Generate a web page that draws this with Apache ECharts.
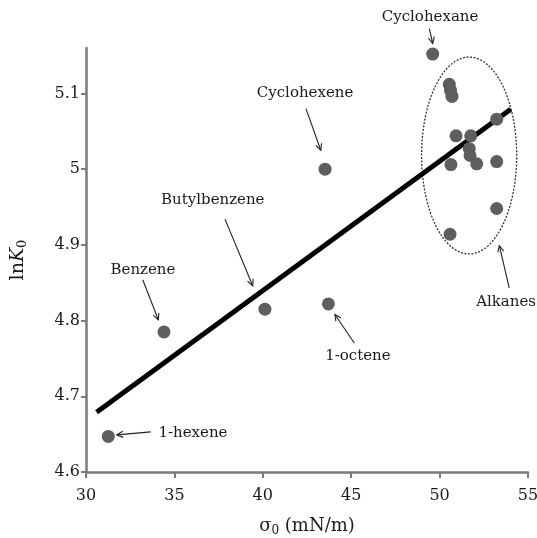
<!DOCTYPE html>
<html><head><meta charset="utf-8">
<script src="https://cdn.jsdelivr.net/npm/echarts@6/dist/echarts.min.js"></script>
<style>html,body{margin:0;padding:0;background:#fff}#c{width:537px;height:538px}</style>
</head><body><div id="c"></div>
<script>
// Named points (sigma0 mN/m, lnK0)
const namedPoints = [
  [31.26, 4.647], // 1-hexene
  [34.41, 4.785], // Benzene
  [40.12, 4.815], // Butylbenzene
  [43.71, 4.822], // 1-octene
  [43.52, 5.000], // Cyclohexene
  [49.61, 5.152]  // Cyclohexane
];
const alkanePoints = [
  [50.55, 5.112], [50.62, 5.104], [50.70, 5.096], [53.23, 5.066],
  [50.93, 5.044], [51.76, 5.044], [51.68, 5.027], [51.72, 5.018],
  [52.10, 5.007], [50.64, 5.006], [53.23, 5.010], [53.23, 4.948],
  [50.59, 4.914]
];
const fitLine = [[30.6, 4.679], [54.02, 5.079]];
// ellipse: center x, center y, radius x, radius y
const alkaneEllipse = [[51.67, 5.018, 2.69, 0.130]];
// labels: text, x, y
const labelTexts = ['Cyclohexane', 'Cyclohexene', 'Butylbenzene', 'Benzene', '1-octene', '1-hexene', 'Alkanes'];
const labelPos = [[49.46, 5.2005], [42.39, 5.101], [37.17, 4.959], [33.22, 4.867], [45.38, 4.753], [36.05, 4.651], [53.76, 4.824]];
// arrows: x1, y1, x2 (tip), y2 (tip)
const arrows = [
  [49.42, 5.1856, 49.61, 5.166],
  [42.44, 5.080, 43.28, 5.025],
  [37.86, 4.934, 39.43, 4.846],
  [33.21, 4.854, 34.09, 4.801],
  [45.18, 4.770, 44.08, 4.808],
  [33.66, 4.653, 31.74, 4.649],
  [53.94, 4.843, 53.38, 4.899]
];
const xTicks = [30, 35, 40, 45, 50, 55];
const yTicks = [4.6, 4.7, 4.8, 4.9, 5.0, 5.1];

const FONT = '"DejaVu Serif", "Liberation Serif", serif';
const chart = echarts.init(document.getElementById('c'), null, {renderer: 'canvas'});
const axisColor = '#7a7a7a';
chart.setOption({
  animation: false,
  backgroundColor: '#fff',
  grid: {left: 86, right: 9, top: 48, bottom: 66, containLabel: false, outerBoundsMode: 'none'},
  xAxis: {
    type: 'value', min: 30, max: 55, interval: 5,
    axisLine: {onZero: false, lineStyle: {color: axisColor, width: 2.5}},
    axisTick: {length: 6, lineStyle: {color: axisColor, width: 2}, customValues: xTicks},
    axisLabel: {color: '#1a1a1a', fontFamily: FONT, fontSize: 16, margin: 16, customValues: xTicks},
    splitLine: {show: false},
    name: 'σ{sub|0} (mN/m)', nameLocation: 'middle', nameGap: 44,
    nameTextStyle: {color: '#1a1a1a', fontFamily: FONT, fontSize: 18,
      rich: {sub: {fontFamily: FONT, fontSize: 12, padding: [9, 0, 0, 0], color: '#1a1a1a'}}}
  },
  yAxis: {
    type: 'value', min: 4.6, max: 5.16,
    axisLine: {onZero: false, lineStyle: {color: axisColor, width: 2.5}},
    axisTick: {length: 5, lineStyle: {color: axisColor, width: 2}, customValues: yTicks},
    axisLabel: {color: '#1a1a1a', fontFamily: FONT, fontSize: 16, margin: 6, customValues: yTicks,
      formatter: v => String(Number(v.toFixed(1)))},
    splitLine: {show: false},
    name: 'ln{it|K}{sub|0}', nameLocation: 'middle', nameGap: 57, nameRotate: 90,
    nameTextStyle: {color: '#1a1a1a', fontFamily: FONT, fontSize: 19,
      rich: {it: {fontFamily: FONT, fontSize: 19, fontStyle: 'italic', color: '#1a1a1a'},
             sub: {fontFamily: FONT, fontSize: 13, padding: [9, 0, 0, 0], color: '#1a1a1a'}}}
  },
  series: [
    {
      type: 'custom', z: 1, clip: false,
      renderItem: (params, api) => {
        const c = api.coord([api.value(0), api.value(1)]);
        const s = api.size([api.value(2), api.value(3)]);
        return {type: 'ellipse', shape: {cx: c[0], cy: c[1], rx: s[0], ry: s[1]},
          style: {fill: null, stroke: '#333', lineWidth: 1.3, lineDash: [2, 1.5]}};
      },
      data: alkaneEllipse
    },
    {
      type: 'line', data: fitLine, symbol: 'none', z: 2,
      lineStyle: {color: '#000', width: 5}
    },
    {
      type: 'scatter', data: namedPoints.concat(alkanePoints), symbolSize: 13, z: 3,
      itemStyle: {color: '#5e5e5e', opacity: 1}
    },
    {
      type: 'custom', z: 4, clip: false,
      renderItem: (params, api) => {
        const p1 = api.coord([api.value(0), api.value(1)]);
        const p2 = api.coord([api.value(2), api.value(3)]);
        const ang = Math.atan2(p2[1] - p1[1], p2[0] - p1[0]);
        const L = 7, W = 0.45;
        const a1 = [p2[0] - L * Math.cos(ang - W), p2[1] - L * Math.sin(ang - W)];
        const a2 = [p2[0] - L * Math.cos(ang + W), p2[1] - L * Math.sin(ang + W)];
        return {type: 'group', children: [
          {type: 'line', shape: {x1: p1[0], y1: p1[1], x2: p2[0], y2: p2[1]},
           style: {stroke: '#222', lineWidth: 1.1}},
          {type: 'polyline', shape: {points: [a1, p2, a2]},
           style: {stroke: '#222', lineWidth: 1.1, fill: null}}
        ]};
      },
      data: arrows
    },
    {
      type: 'custom', z: 5, clip: false,
      renderItem: (params, api) => {
        const p = api.coord([api.value(0), api.value(1)]);
        return {type: 'text', x: p[0], y: p[1],
          style: {text: labelTexts[params.dataIndex], fill: '#1a1a1a', font: '15px ' + FONT,
            align: 'center', verticalAlign: 'middle', backgroundColor: '#fff', padding: [1, 2]}};
      },
      data: labelPos
    }
  ]
});
</script></body></html>
